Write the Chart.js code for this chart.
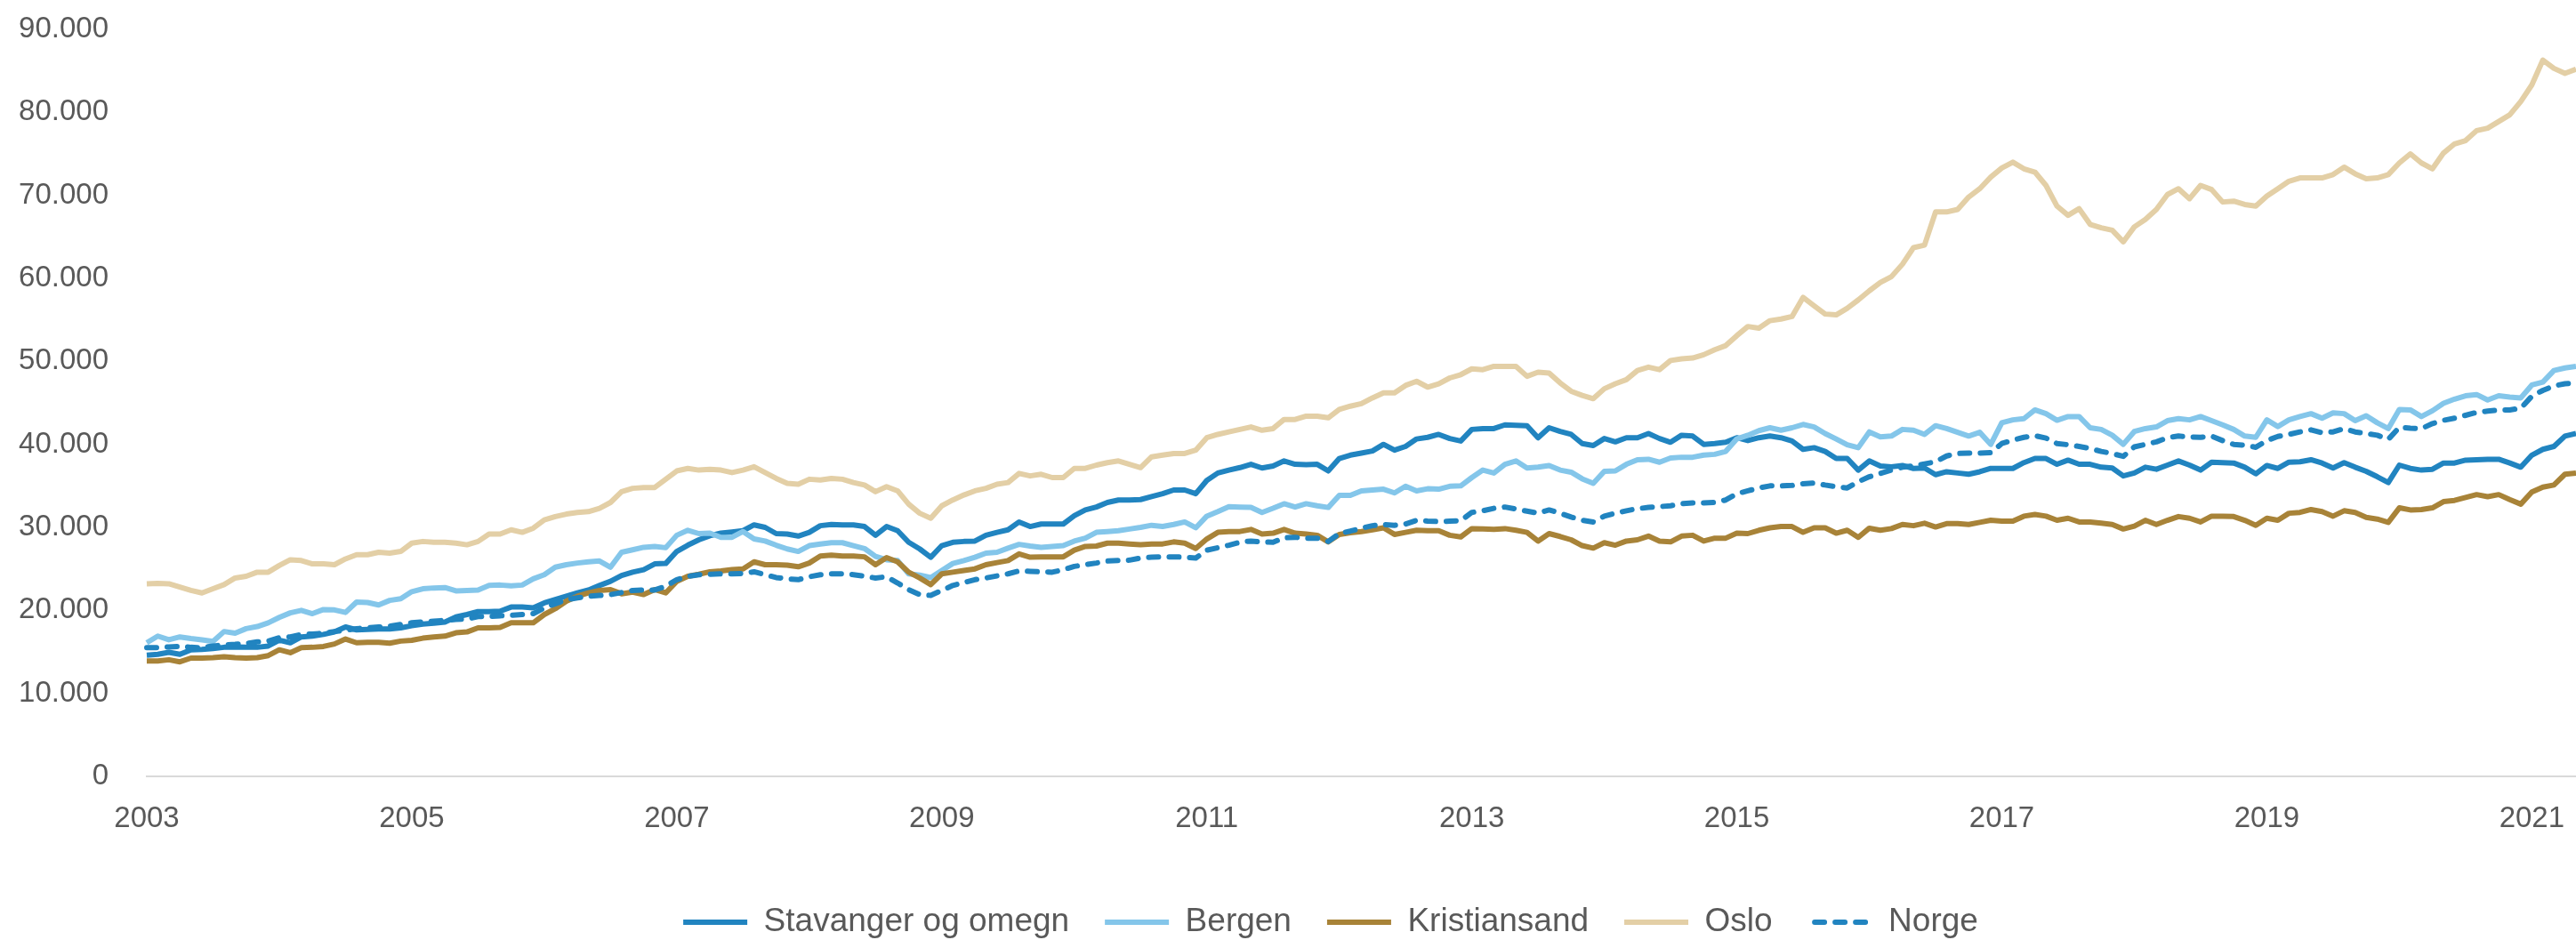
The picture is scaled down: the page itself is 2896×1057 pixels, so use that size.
<!DOCTYPE html>
<html>
<head>
<meta charset="utf-8">
<style>
  html, body { margin: 0; padding: 0; background: #ffffff; }
  #wrap { width: 2896px; height: 1057px; }
</style>
<script src="https://cdn.jsdelivr.net/npm/chart.js@4.4.1/dist/chart.umd.min.js"></script>
</head>
<body>
<div id="wrap"><canvas id="c" width="2896" height="1057"></canvas></div>
<script>
// Monthly categories: Jan 2003 .. May 2021
const startYear = 2003;
const monthCount = 221;
const categories = [];
for (let k = 0; k < monthCount; k++) {
  const y = startYear + Math.floor(k / 12);
  const m = (k % 12) + 1;
  categories.push(y + '-' + (m < 10 ? '0' + m : '' + m));
}
const tickYears = ['2003','2005','2007','2009','2011','2013','2015','2017','2019','2021'];
const seriesNames = ['Stavanger og omegn', 'Bergen', 'Kristiansand', 'Oslo', 'Norge'];

const stavanger = [
14600,14700,14950,14700,15250,15300,15400,15550,15600,15550,15550,15700,
16400,16100,16800,16900,17100,17400,18000,17650,17700,17750,17750,17900,
18150,18350,18450,18600,19200,19500,19850,19850,19900,20400,20400,20300,
20900,21300,21700,22100,22450,23000,23500,24200,24600,24900,25600,25650,
27100,27850,28500,29000,29300,29450,29600,30300,30000,29250,29200,28950,
29400,30200,30350,30300,30300,30100,29050,30100,29600,28200,27400,26400,
27800,28200,28300,28350,29050,29400,29700,30650,30100,30400,30400,30400,
31400,32100,32450,33000,33300,33300,33350,33700,34050,34500,34500,34050,
35650,36550,36900,37200,37600,37150,37400,38000,37600,37550,37600,36800,
38300,38700,38950,39200,40000,39300,39750,40650,40850,41200,40700,40400,
41800,41900,41900,42350,42300,42250,40800,42000,41550,41200,40100,39850,
40700,40300,40800,40800,41300,40700,40250,41100,41000,40000,40100,40250,
40800,40450,40800,41000,40800,40400,39400,39600,39150,38300,38300,36900,
38000,37400,37300,37450,37100,37150,36350,36700,36550,36400,36700,37100,
37100,37100,37800,38300,38300,37600,38100,37600,37600,37250,37150,36200,
36550,37250,37000,37500,38000,37500,36900,37850,37800,37750,37250,36450,
37450,37100,37850,37900,38150,37750,37150,37800,37250,36750,36100,35400,
37500,37100,36900,37000,37750,37750,38100,38150,38200,38200,37750,37250,
38700,39400,39750,41000,41300
];

const bergen = [
16100,16900,16450,16800,16600,16450,16250,17450,17250,17800,18050,18500,
19150,19700,20000,19600,20100,20050,19750,21000,20950,20650,21200,21400,
22250,22600,22700,22750,22350,22400,22450,23000,23050,22950,23050,23800,
24300,25200,25500,25700,25850,25950,25200,27000,27300,27600,27700,27550,
29050,29650,29250,29300,28800,28800,29500,28600,28350,27850,27400,27100,
27800,28000,28150,28150,27800,27450,26500,26100,26000,24400,24250,23950,
24800,25650,26000,26400,26900,27000,27500,27950,27750,27600,27700,27800,
28350,28700,29400,29500,29600,29800,30000,30250,30100,30350,30650,29950,
31350,31900,32500,32450,32400,31800,32300,32850,32450,32850,32600,32400,
33850,33850,34400,34500,34600,34150,34950,34400,34650,34600,34950,35000,
36000,36900,36550,37600,38000,37150,37250,37450,36900,36650,35850,35300,
36750,36800,37600,38150,38200,37850,38350,38450,38450,38700,38800,39150,
40650,41100,41650,42000,41700,42000,42400,42100,41300,40650,39950,39600,
41500,40900,41000,41800,41700,41200,42250,41900,41450,41000,41450,40000,
42600,42950,43100,44150,43700,42900,43350,43350,42000,41800,41100,40000,
41550,41900,42100,42850,43100,42950,43350,42850,42350,41800,41000,40850,
42950,42150,42950,43350,43700,43150,43800,43700,42850,43450,42600,41900,
44200,44150,43350,44050,44950,45450,45850,46000,45350,45850,45700,45600,
47150,47500,48900,49200,49400
];

const kristiansand = [
13900,13900,14050,13800,14250,14250,14300,14400,14300,14250,14300,14550,
15250,14900,15500,15550,15650,15950,16550,16100,16150,16150,16050,16300,
16400,16650,16800,16900,17300,17400,17900,17900,17950,18500,18500,18500,
19500,20200,21100,21700,22100,22400,22500,22000,22200,21900,22500,22100,
23500,24100,24350,24650,24750,24900,25000,25850,25500,25500,25450,25250,
25700,26550,26650,26550,26550,26450,25500,26350,25850,24600,23900,23100,
24400,24600,24800,25000,25500,25750,26000,26800,26400,26450,26450,26450,
27250,27700,27750,28100,28100,28000,27900,28000,28000,28250,28100,27450,
28600,29400,29500,29500,29750,29200,29300,29750,29300,29200,29050,28250,
29150,29350,29500,29700,29950,29150,29400,29650,29600,29600,29050,28850,
29850,29800,29750,29850,29650,29400,28350,29250,28900,28500,27800,27500,
28150,27850,28350,28500,28950,28350,28250,28950,29050,28350,28700,28700,
29300,29250,29650,29950,30100,30100,29400,29950,29950,29300,29650,28800,
29900,29650,29850,30350,30200,30500,30050,30450,30450,30350,30600,30850,
30750,30750,31350,31550,31350,30850,31100,30650,30650,30500,30350,29800,
30150,30850,30350,30850,31300,31100,30650,31350,31350,31300,30850,30250,
31100,30850,31700,31800,32150,31900,31350,32000,31800,31200,31000,30600,
32350,32100,32150,32350,33100,33250,33600,33950,33700,33950,33350,32800,
34250,34850,35100,36400,36550
];

const oslo = [
23200,23250,23200,22800,22400,22100,22600,23100,23900,24100,24600,24600,
25400,26100,26000,25600,25600,25500,26200,26700,26700,27000,26900,27100,
28100,28300,28200,28200,28100,27900,28300,29200,29200,29700,29400,29900,
30900,31300,31600,31800,31900,32300,33000,34300,34700,34800,34800,35800,
36800,37100,36900,37000,36900,36600,36900,37300,36600,35900,35300,35200,
35800,35700,35900,35800,35400,35100,34300,34900,34400,32800,31700,31100,
32600,33300,33900,34400,34700,35200,35400,36500,36200,36400,36000,36000,
37100,37100,37500,37800,38000,37600,37200,38500,38700,38900,38900,39300,
40800,41200,41500,41800,42100,41700,41900,43000,43000,43400,43400,43200,
44200,44600,44900,45600,46200,46200,47100,47600,46900,47300,48000,48400,
49100,49000,49400,49400,49400,48200,48700,48600,47400,46400,45900,45500,
46700,47300,47800,48900,49300,49000,50100,50300,50400,50800,51400,51900,
53100,54200,54000,54900,55100,55400,57700,56700,55700,55600,56400,57400,
58500,59500,60200,61700,63700,64000,68000,68000,68300,69800,70800,72200,
73300,74000,73200,72800,71200,68700,67600,68400,66500,66100,65800,64400,
66200,67100,68300,70100,70800,69600,71200,70700,69200,69300,68900,68700,
69900,70800,71700,72100,72100,72100,72500,73400,72600,72000,72100,72500,
73900,75000,73900,73200,75100,76200,76600,77800,78100,78900,79700,81300,
83300,86300,85300,84700,85200
];

const norge = [
15500,15500,15600,15650,15550,15500,15700,15850,15900,16000,16200,16300,
16700,16800,17100,17150,17250,17450,17600,17800,17900,18000,18100,18300,
18500,18600,18700,18800,18900,18950,19250,19250,19350,19400,19500,19600,
20300,20800,21300,21500,21700,21800,21900,22150,22400,22450,22450,22900,
23700,24100,24300,24350,24400,24400,24450,24650,24300,23950,23800,23700,
24050,24300,24400,24400,24300,24100,23900,24050,23300,22500,21900,21800,
22400,23000,23350,23700,23900,24150,24400,24750,24700,24650,24600,24900,
25300,25500,25700,25950,26000,26050,26300,26400,26450,26450,26400,26300,
27250,27550,27850,28200,28350,28250,28200,28750,28800,28700,28700,28300,
29250,29550,29900,30200,30350,30250,30400,30850,30750,30700,30750,30800,
31800,32000,32300,32450,32200,31950,31700,32100,31700,31250,30850,30650,
31350,31700,32000,32250,32400,32500,32600,32850,32950,32950,33000,33300,
34050,34400,34750,35000,35000,35050,35250,35350,35100,34900,34750,35500,
36100,36500,36900,37250,37400,37650,37900,38600,38900,38950,38950,39000,
40100,40500,40850,41050,40750,40100,39950,39750,39500,39150,38900,38550,
39700,40000,40300,40800,41000,40900,40850,41000,40450,40000,39900,39650,
40450,40950,41200,41500,41750,41400,41500,41900,41500,41300,41100,40600,
42050,41950,41900,42500,42900,43150,43500,43850,44000,44150,44150,44350,
45800,46500,47050,47300,47400
];

const colStav = '#2184C0';
const colBerg = '#84C6EA';
const colKris = '#A88338';
const colOslo = '#E3CFA6';
const colNorge = '#2184C0';
const txtColor = '#595959';
const fontFam = '"Liberation Sans", Arial, sans-serif';
const lineW = 6;

function ds(label, data, color, order, dash) {
  return {
    label: label,
    data: data,
    borderColor: color,
    backgroundColor: color,
    borderWidth: lineW,
    pointRadius: 0,
    pointHoverRadius: 0,
    tension: 0,
    fill: false,
    order: order,
    borderJoinStyle: 'round',
    borderCapStyle: dash ? 'round' : 'butt',
    borderDash: dash || []
  };
}

const legendShift = {
  id: 'legendShift',
  afterLayout(chart) {
    if (chart.legend) {
      chart.legend.left += 48;
      chart.legend.right += 48;
    }
  }
};

new Chart(document.getElementById('c'), {
  type: 'line',
  data: {
    labels: categories,
    datasets: [
      ds(seriesNames[0], stavanger, colStav, 5),
      ds(seriesNames[1], bergen, colBerg, 4),
      ds(seriesNames[2], kristiansand, colKris, 3),
      ds(seriesNames[3], oslo, colOslo, 2),
      ds(seriesNames[4], norge, colNorge, 1, [11, 12])
    ]
  },
  options: {
    responsive: false,
    animation: false,
    devicePixelRatio: 1,
    layout: { padding: { top: 33, left: 0, right: 0, bottom: 0 } },
    plugins: {
      tooltip: { enabled: false },
      legend: {
        position: 'bottom',
        maxHeight: 78.5,
        labels: {
          usePointStyle: true,
          pointStyle: 'line',
          pointStyleWidth: 72,
          padding: 40,
          color: txtColor,
          font: { family: fontFam, size: 37 },
          sort: (a, b) => a.datasetIndex - b.datasetIndex,
          generateLabels: function(chart) {
            const items = Chart.defaults.plugins.legend.labels.generateLabels(chart);
            items.forEach(function(it) {
              const d = chart.data.datasets[it.datasetIndex];
              it.lineDash = d.borderDash;
              it.lineDashOffset = d.borderDash.length ? 15.5 : 0;
              it.lineCap = d.borderCapStyle;
              it.lineWidth = d.borderWidth;
              it.strokeStyle = d.borderColor;
              it.fillStyle = d.borderColor;
            });
            return items;
          }
        }
      }
    },
    scales: {
      x: {
        type: 'category',
        offset: false,
        grid: { display: false, drawTicks: false },
        border: { display: true, color: '#d9d9d9', width: 2 },
        ticks: {
          autoSkip: false,
          maxRotation: 0,
          minRotation: 0,
          padding: 28,
          color: txtColor,
          font: { family: fontFam, size: 33 },
          callback: function(value, index) {
            const lab = categories[index];
            const yr = lab.slice(0, 4);
            return (lab.slice(5) === '01' && tickYears.indexOf(yr) >= 0) ? yr : '';
          }
        },
        afterFit: function(scale) {
          scale.height = 105.5;
          scale.paddingLeft = 0;
          scale.paddingRight = 0;
        }
      },
      y: {
        min: 0,
        max: 90000,
        grid: { display: false, drawTicks: false },
        border: { display: false },
        ticks: {
          stepSize: 10000,
          padding: 43,
          color: txtColor,
          font: { family: fontFam, size: 33 },
          callback: function(v) { return v.toLocaleString('de-DE'); }
        },
        afterFit: function(scale) {
          scale.width = 165;
          scale.paddingTop = 0;
          scale.paddingBottom = 0;
        }
      }
    }
  },
  plugins: [legendShift]
});
</script>
</body>
</html>
